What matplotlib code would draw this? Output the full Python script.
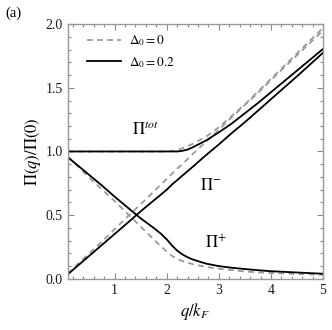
import numpy as np
import matplotlib
matplotlib.use("Agg")
import matplotlib.pyplot as plt
from matplotlib.ticker import MultipleLocator

plt.rcParams['font.family'] = ['Liberation Serif', 'DejaVu Serif']
plt.rcParams['mathtext.fontset'] = 'stix'

# q/k_F sample points
q = [0.1, 0.25, 0.5, 0.75, 1.0, 1.25, 1.5, 1.75, 1.9, 2.0, 2.1, 2.2, 2.3, 2.4, 2.5,
     2.75, 3.0, 3.25, 3.5, 3.75, 4.0, 4.5, 5.0]

# Delta_0 = 0 (dashed)
tot_0 = [1.0, 1.0, 1.0, 1.0, 1.0, 1.0, 1.0, 1.0, 1.0, 1.0, 1.003, 1.012, 1.025, 1.042, 1.06,
         1.115, 1.19, 1.28, 1.37, 1.47, 1.57, 1.77, 1.97]
minus_0 = [0.04, 0.10, 0.195, 0.29, 0.39, 0.49, 0.585, 0.685, 0.745, 0.785, 0.825, 0.865, 0.90, 0.94, 0.98,
           1.075, 1.17, 1.27, 1.365, 1.46, 1.56, 1.755, 1.95]
plus_0 = [0.96, 0.90, 0.80, 0.705, 0.61, 0.51, 0.41, 0.31, 0.25, 0.215, 0.18, 0.157, 0.14, 0.127, 0.115,
          0.094, 0.079, 0.068, 0.058, 0.051, 0.046, 0.038, 0.032]

# Delta_0 = 0.2 (solid)
tot_2 = [1.0, 1.0, 1.0, 1.0, 1.0, 1.0, 1.0, 1.0, 1.0, 1.0, 1.0, 1.0, 1.005, 1.015, 1.033,
         1.085, 1.15, 1.22, 1.30, 1.38, 1.465, 1.635, 1.805]
minus_2 = [0.035, 0.088, 0.176, 0.264, 0.352, 0.44, 0.53, 0.615, 0.665, 0.70, 0.74, 0.775, 0.81, 0.845, 0.88,
           0.97, 1.055, 1.145, 1.23, 1.32, 1.41, 1.59, 1.775]
plus_2 = [0.955, 0.905, 0.82, 0.735, 0.645, 0.56, 0.475, 0.40, 0.35, 0.31, 0.262, 0.222, 0.192, 0.17, 0.152,
          0.12, 0.10, 0.087, 0.077, 0.068, 0.06, 0.05, 0.04]

fig = plt.figure(figsize=(3.32, 3.30), dpi=100)
ax = fig.add_axes([0.204, 0.155, 0.769, 0.772])

gray = '#9a9a9a'
dash = dict(color=gray, lw=1.3, ls=(0, (3.2, 2.4)))
solid = dict(color='black', lw=1.3)

ax.plot(q, tot_0, **dash, label=r'$\Delta_0 = 0$')
ax.plot(q, minus_0, **dash)
ax.plot(q, plus_0, **dash)
ax.plot(q, tot_2, **solid, label=r'$\Delta_0 = 0.2$')
ax.plot(q, minus_2, **solid)
ax.plot(q, plus_2, **solid)

ax.set_xlim(0.1, 5)
ax.set_ylim(0, 2)
ax.xaxis.set_major_locator(MultipleLocator(1))
ax.xaxis.set_minor_locator(MultipleLocator(0.2))
ax.yaxis.set_major_locator(MultipleLocator(0.5))
ax.yaxis.set_minor_locator(MultipleLocator(0.1))
ax.yaxis.set_major_formatter(matplotlib.ticker.FormatStrFormatter('%.1f'))
ax.tick_params(which='both', direction='in', top=True, right=True, color='#888888',
               labelsize=10, labelcolor='#1a1a2a', width=0.8)
ax.tick_params(which='major', length=4)
ax.tick_params(which='minor', length=2)
for s in ax.spines.values():
    s.set_color('#999999')
    s.set_linewidth(1.0)

ax.set_xlabel(r'$q/k_F$', fontsize=12, labelpad=3)
ax.set_ylabel(r'$\Pi(q)/\Pi(0)$', fontsize=12, labelpad=2)

ax.text(1.6, 1.17, r'$\Pi^{tot}$', fontsize=12, ha='center', va='center')
ax.text(2.84, 0.73, r'$\Pi^{-}$', fontsize=12, ha='center', va='center')
ax.text(2.94, 0.28, r'$\Pi^{+}$', fontsize=12, ha='center', va='center')

ax.legend(loc='upper left', bbox_to_anchor=(0.04, 1.0), frameon=False, fontsize=9.5,
          handlelength=2.6, borderaxespad=0.3, labelspacing=0.5, handletextpad=0.6)

fig.text(0.015, 0.96, '(a)', fontsize=10.5, ha='left', va='center')

fig.savefig('out.png', dpi=100)
